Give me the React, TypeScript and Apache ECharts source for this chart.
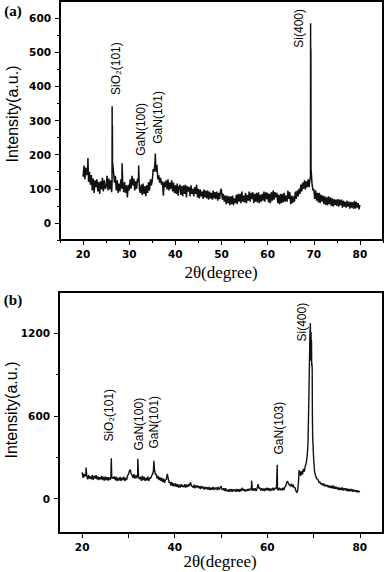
import React, { useEffect, useRef } from 'react';
import * as echarts from 'echarts';

// ---------- Data ----------
// Panel (a): intensity sampled every 0.2° from 20° to 80°
const startThetaA = 20;
const stepThetaA = 0.2;
const intensityA: number[] = [
  135, 168, 128, 162, 140,
  158, 120, 150, 112, 140,
  95, 130, 88, 125, 105,
  128, 92, 120, 85, 122,
  98, 132, 92, 125, 100,
  105, 138, 95, 130, 98,
  125, 90, 178, 150, 118,
  138, 95, 125, 88, 115,
  92, 128, 100, 118, 90,
  120, 88, 110, 75, 112,
  95, 128, 100, 138, 110,
  130, 95, 122, 100, 130,
  120, 100, 88, 112, 82,
  115, 85, 108, 78, 110,
  88, 120, 95, 128, 110,
  125, 158, 150, 180, 150,
  170, 128, 140, 118, 132,
  112, 122, 80, 120, 105,
  125, 98, 128, 95, 118,
  100, 125, 92, 118, 88,
  110, 85, 115, 80, 105,
  112, 82, 108, 78, 110,
  85, 112, 75, 108, 92,
  105, 78, 110, 85, 100,
  78, 105, 85, 112, 75,
  100, 72, 98, 78, 92,
  70, 98, 75, 95, 72,
  95, 68, 92, 72, 88,
  68, 95, 72, 90, 70,
  92, 65, 88, 70, 95,
  100, 68, 85, 62, 80,
  55, 80, 58, 78, 52,
  78, 55, 80, 52, 72,
  58, 82, 55, 85, 62,
  85, 58, 92, 62, 80,
  60, 88, 58, 82, 65,
  92, 62, 88, 70, 90,
  58, 85, 62, 88, 60,
  90, 58, 82, 62, 85,
  65, 92, 62, 90, 70,
  88, 60, 85, 58, 90,
  65, 95, 68, 90, 75,
  88, 58, 82, 55, 85,
  58, 85, 60, 88, 62,
  80, 62, 95, 70, 90,
  55, 80, 58, 78, 62,
  92, 70, 95, 78, 100,
  85, 112, 92, 118, 100,
  125, 98, 122, 105, 128,
  105, 130, 160, 118, 95,
  100, 70, 95, 65, 88,
  60, 88, 58, 82, 62,
  80, 55, 78, 52, 75,
  52, 78, 55, 75, 50,
  72, 48, 70, 52, 68,
  50, 70, 48, 68, 52,
  68, 45, 65, 48, 62,
  45, 65, 48, 62, 42,
  62, 45, 60, 42, 65,
  42, 62, 45, 58, 40,
  52,
];
// Narrow peaks of panel (a), read between the sampling points
const peakThetaA = [21.05, 26.28, 26.3, 26.33, 26.36, 26.38, 28.45, 32.05, 35.65, 49.95, 69.28, 69.31, 69.34, 69.37, 69.39];
const peakIntensityA = [190, 120, 342, 160, 285, 180, 175, 168, 203, 100, 135, 585, 200, 510, 300];

// Panel (b): intensity sampled every 0.2° from 20° to 80°
const startThetaB = 20;
const stepThetaB = 0.2;
const intensityB: number[] = [
  190, 150, 180, 160, 175,
  165, 140, 170, 145, 160,
  140, 170, 135, 165, 145,
  170, 140, 160, 135, 155,
  140, 165, 135, 158, 130,
  160, 135, 155, 130, 155,
  135, 150, 145, 155, 145,
  160, 132, 158, 128, 150,
  132, 158, 128, 152, 135,
  158, 128, 150, 135, 165,
  175, 200, 210, 180, 170,
  150, 178, 145, 168, 148,
  180, 155, 140, 158, 128,
  165, 135, 158, 128, 150,
  132, 160, 128, 152, 145,
  165, 178, 200, 218, 175,
  178, 145, 165, 135, 155,
  128, 150, 120, 145, 115,
  135, 140, 180, 145, 115,
  118, 95, 120, 90, 110,
  90, 110, 85, 105, 80,
  100, 80, 105, 85, 95,
  82, 105, 80, 100, 85,
  105, 90, 118, 95, 88,
  80, 100, 75, 95, 80,
  95, 75, 90, 70, 92,
  75, 85, 65, 85, 70,
  82, 65, 85, 62, 78,
  65, 85, 62, 80, 68,
  80, 62, 85, 65, 75,
  92, 70, 62, 75, 55,
  75, 55, 62, 50, 68,
  52, 70, 50, 68, 55,
  65, 50, 70, 52, 68,
  50, 70, 55, 78, 58,
  68, 52, 65, 55, 70,
  58, 70, 62, 82, 58,
  72, 58, 75, 55, 72,
  105, 75, 78, 58, 75,
  58, 72, 55, 75, 60,
  78, 58, 75, 55, 72,
  60, 78, 58, 75, 72,
  85, 65, 62, 78, 62,
  72, 60, 78, 62, 85,
  92, 118, 125, 105, 100,
  90, 108, 85, 100, 78,
  80, 55, 42, 65, 150,
  195, 165, 200, 175, 215,
  195, 235, 255, 305, 400,
  760, 1170, 1000, 960, 450,
  300, 200, 170, 150, 140,
  135, 115, 120, 105, 110,
  95, 110, 90, 100, 88,
  98, 80, 95, 78, 92,
  75, 95, 70, 88, 72,
  85, 65, 80, 62, 78,
  62, 80, 58, 75, 60,
  75, 55, 72, 52, 70,
  55, 70, 50, 65, 52,
  62, 48, 60, 45, 55,
  48,
];
const peakThetaB = [20.85, 26.3, 32.02, 35.5, 56.6, 62.15, 66.85, 69.3, 69.35, 69.45, 69.5, 69.55, 69.65, 69.7, 69.75];
const peakIntensityB = [225, 292, 290, 275, 130, 245, 205, 1275, 1180, 1210, 1050, 1150, 980, 950, 600];

// Axis ticks
const xLabelsA = [20, 30, 40, 50, 60, 70, 80];
const xMinorA = [15, 25, 35, 45, 55, 65, 75, 85];
const yLabelsA = [0, 100, 200, 300, 400, 500, 600];
const yMinorA = [-50, 50, 150, 250, 350, 450, 550];
const xLabelsB = [20, 40, 60, 80];
const xMinorB = [30, 50, 70];
const yLabelsB = [0, 600, 1200];
const yMinorB = [300, 900];

// Peak annotations: [text, 2θ, intensity at text centre]
const peakNamesA = ['SiO₂(101)', 'GaN(100)', 'GaN(101)', 'Si(400)'];
const peakLabelThetaA = [27.1, 32.55, 36.2, 66.75];
const peakLabelYA = [452, 274, 309, 570];
const peakNamesB = ['SiO₂(101)', 'GaN(100)', 'GaN(101)', 'GaN(103)', 'Si(400)'];
const peakLabelThetaB = [25.9, 32.2, 35.5, 62.6, 67.6];
const peakLabelYB = [605, 540, 554, 511, 1281];

function buildSeries(start: number, step: number, ys: number[], px: number[], py: number[]) {
  const pts: [number, number][] = ys.map((y, i) => [Math.round((start + i * step) * 100) / 100, y]);
  px.forEach((x, i) => pts.push([x, py[i]]));
  pts.sort((a, b) => a[0] - b[0]);
  return pts;
}

const tickFont = { fontFamily: 'DejaVu Sans', fontWeight: 'bold' as const, fontSize: 10.5, color: '#000', formatter: (v: number) => String(v) };

function xAxes(grid: number, labels: number[], minor: number[], minorLen: number) {
  return [
    {
      gridIndex: grid, type: 'value', min: 15, max: 85, position: 'bottom',
      axisLine: { show: true, onZero: false, lineStyle: { color: '#000', width: 2 } },
      axisTick: { show: true, length: 5, customValues: labels, lineStyle: { color: '#000', width: 1 } },
      axisLabel: { show: true, customValues: labels, margin: 8, ...tickFont },
      splitLine: { show: false },
    },
    {
      gridIndex: grid, type: 'value', min: 15, max: 85, position: 'bottom',
      axisLine: { show: false, onZero: false },
      axisTick: { show: true, length: minorLen, customValues: minor, lineStyle: { color: '#000', width: 1 } },
      axisLabel: { show: false, customValues: minor },
      splitLine: { show: false },
    },
  ];
}

function yAxes(grid: number, min: number, max: number, labels: number[], minor: number[]) {
  return [
    {
      gridIndex: grid, type: 'value', min, max, position: 'left',
      axisLine: { show: true, onZero: false, lineStyle: { color: '#000', width: 2 } },
      axisTick: { show: true, length: 5, customValues: labels, lineStyle: { color: '#000', width: 1 } },
      axisLabel: { show: true, customValues: labels, margin: 9, ...tickFont },
      splitLine: { show: false },
    },
    {
      gridIndex: grid, type: 'value', min, max, position: 'left',
      axisLine: { show: false, onZero: false },
      axisTick: { show: true, length: 3, customValues: minor, lineStyle: { color: '#000', width: 1 } },
      axisLabel: { show: false, customValues: minor },
      splitLine: { show: false },
    },
  ];
}

export default function App() {
  const ref = useRef<HTMLDivElement>(null);
  useEffect(() => {
    if (!ref.current) return;
    const chart = echarts.init(ref.current, undefined, { renderer: 'svg' });
    const dataA = buildSeries(startThetaA, stepThetaA, intensityA, peakThetaA, peakIntensityA);
    const dataB = buildSeries(startThetaB, stepThetaB, intensityB, peakThetaB, peakIntensityB);
    chart.setOption({
      animation: false,
      backgroundColor: '#fff',
      grid: [
        { left: 60, top: 1, right: 4, height: 239, show: true, borderColor: '#000', borderWidth: 2, backgroundColor: 'transparent' },
        { left: 59, top: 292, right: 4, height: 241, show: true, borderColor: '#000', borderWidth: 2, backgroundColor: 'transparent' },
      ],
      xAxis: [...xAxes(0, xLabelsA, xMinorA, 3), ...xAxes(1, xLabelsB, xMinorB, 5)],
      yAxis: [...yAxes(0, -50, 650, yLabelsA, yMinorA), ...yAxes(1, -250, 1500, yLabelsB, yMinorB)],
      series: [
        { type: 'line', xAxisIndex: 0, yAxisIndex: 0, data: dataA, showSymbol: false, symbol: 'none', lineStyle: { color: '#111', width: 1.5 } },
        { type: 'line', xAxisIndex: 2, yAxisIndex: 2, data: dataB, showSymbol: false, symbol: 'none', lineStyle: { color: '#111', width: 1.4 } },
      ],
    });

    const labelStyle = { fontFamily: 'Liberation Sans, Arial, sans-serif', fontSize: 12, fill: '#000', textAlign: 'center', textVerticalAlign: 'middle' };
    const peakTexts: any[] = [];
    peakNamesA.forEach((t, i) => {
      const p = chart.convertToPixel({ gridIndex: 0 } as any, [peakLabelThetaA[i], peakLabelYA[i]]) as number[];
      peakTexts.push({ type: 'text', x: p[0], y: p[1], rotation: Math.PI / 2, style: { text: t, ...labelStyle } });
    });
    peakNamesB.forEach((t, i) => {
      const p = chart.convertToPixel({ gridIndex: 1 } as any, [peakLabelThetaB[i], peakLabelYB[i]]) as number[];
      peakTexts.push({ type: 'text', x: p[0], y: p[1], rotation: Math.PI / 2, style: { text: t, ...labelStyle } });
    });

    const yTitle = { fontFamily: 'Liberation Sans, Arial, sans-serif', fontSize: 16, fill: '#000', textAlign: 'center', textVerticalAlign: 'middle' };
    const xTitle = { fontFamily: 'Liberation Serif, Times New Roman, serif', fontSize: 17, fill: '#000', textAlign: 'center', textVerticalAlign: 'middle' };
    const panelTag = { fontFamily: 'Liberation Serif, Times New Roman, serif', fontSize: 15, fontWeight: 'bold', fill: '#000', textAlign: 'center', textVerticalAlign: 'middle' };

    chart.setOption({
      graphic: [
        { type: 'text', x: 13, y: 11, style: { text: '(a)', ...panelTag } },
        { type: 'text', x: 13, y: 300, style: { text: '(b)', ...panelTag } },
        { type: 'text', x: 12, y: 114, rotation: Math.PI / 2, style: { text: 'Intensity(a.u.)', ...yTitle } },
        { type: 'text', x: 11, y: 410, rotation: Math.PI / 2, style: { text: 'Intensity(a.u.)', ...yTitle } },
        { type: 'text', x: 221, y: 272, style: { text: '2θ(degree)', ...xTitle } },
        { type: 'text', x: 220, y: 561, style: { text: '2θ(degree)', ...xTitle } },
        ...peakTexts,
      ],
    });
    return () => chart.dispose();
  }, []);
  return <div ref={ref} style={{ position: 'absolute', left: 0, top: 0, width: 387, height: 572 }} />;
}
